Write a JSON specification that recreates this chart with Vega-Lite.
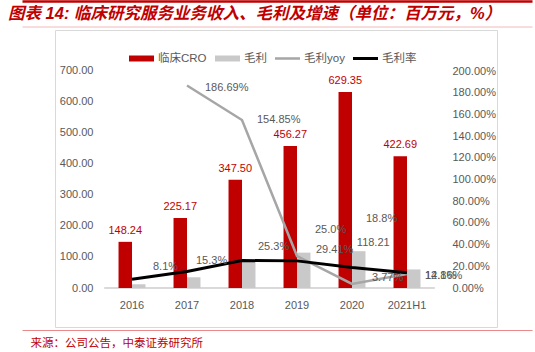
{
  "$schema": "https://vega.github.io/schema/vega-lite/v6.json",
  "width": 442,
  "height": 297,
  "autosize": "none",
  "padding": {"left": 55, "top": 30, "right": 38, "bottom": 25},
  "background": "white",
  "config": {"view": {"stroke": "#D9D9D9", "strokeWidth": 1}},
  "title": {
    "text": "图表 14: 临床研究服务业务收入、毛利及增速（单位：百万元，%）",
    "anchor": "start", "dx": -22, "dy": 27, "offset": 6,
    "font": "Liberation Sans, Noto Sans CJK SC", "fontSize": 16.5, "fontStyle": "italic",
    "fontWeight": "bold", "color": "#C00000"
  },
  "data": {
    "values": [
      {"year": "2016", "临床CRO": 148.24, "毛利": 12.01, "毛利yoy": null, "毛利率": 0.081},
      {"year": "2017", "临床CRO": 225.17, "毛利": 34.43, "毛利yoy": 1.8669, "毛利率": 0.153},
      {"year": "2018", "临床CRO": 347.50, "毛利": 87.75, "毛利yoy": 1.5485, "毛利率": 0.253},
      {"year": "2019", "临床CRO": 456.27, "毛利": 113.56, "毛利yoy": 0.2941, "毛利率": 0.250},
      {"year": "2020", "临床CRO": 629.35, "毛利": 118.21, "毛利yoy": 0.0377, "毛利率": 0.188},
      {"year": "2021H1", "临床CRO": 422.69, "毛利": 59.60, "毛利yoy": 0.1286, "毛利率": 0.141}
    ]
  },
  "layer": [
    {
      "mark": {"type": "rule", "opacity": 0},
      "encoding": {
        "x": {"datum": "frame", "type": "nominal", "scale": {"range": [-33, 477]},
          "axis": {"orient": "top", "offset": 29, "domainColor": "#C00000", "domainWidth": 2.5, "labels": false, "ticks": false, "grid": false, "title": null}}
      }
    },
    {
      "mark": {"type": "rule", "opacity": 0},
      "encoding": {
        "x": {"datum": "frame", "type": "nominal", "scale": {"range": [-33, 477]},
          "axis": {"orient": "top", "offset": 3.5, "domainColor": "#F2B8B8", "domainWidth": 1, "labels": false, "ticks": false, "grid": false, "title": null}}
      }
    },
    {
      "mark": {"type": "rule", "opacity": 0},
      "encoding": {
        "x": {"datum": "frame", "type": "nominal", "scale": {"range": [-33, 477]},
          "axis": {"orient": "bottom", "offset": 3, "domainColor": "#E88A8A", "domainWidth": 1, "labels": false, "ticks": false, "grid": false, "title": null}}
      }
    },
    {
      "mark": {"type": "rule", "color": "#D9D9D9", "strokeWidth": 1},
      "encoding": {
        "x": {"datum": "2016", "type": "nominal", "bandPosition": -0.52, "axis": null,
          "scale": {"domain": ["2016", "2017", "2018", "2019", "2020", "2021H1"], "range": [49.5, 379.5], "paddingInner": 0.51, "paddingOuter": 0.255}},
        "x2": {"datum": "2021H1", "bandPosition": 1.52},
        "y": {"datum": 0, "type": "quantitative", "scale": {"domain": [0, 700], "range": [258, 40], "nice": false}, "axis": null}
      }
    },
    {
      "transform": [{"fold": ["临床CRO", "毛利"], "as": ["series", "value"]}],
      "mark": {"type": "bar"},
      "encoding": {
        "x": {
          "field": "year", "type": "nominal",
          "scale": {"domain": ["2016", "2017", "2018", "2019", "2020", "2021H1"], "range": [49.5, 379.5], "paddingInner": 0.51, "paddingOuter": 0.255},
          "axis": {
            "orient": "bottom", "offset": 3, "domain": false,
            "ticks": false, "labelPadding": -31, "labelAngle": 0,
            "labelFont": "Liberation Sans", "labelFontSize": 11, "labelColor": "#595959",
            "title": "来源：公司公告，中泰证券研究所", "titleX": -25, "titleY": 13,
            "titleAnchor": "start", "titleAlign": "left", "titleBaseline": "middle",
            "titleColor": "#C00000", "titleFontSize": 11.5, "titleFontWeight": "normal",
            "titleFont": "Noto Sans CJK SC"
          }
        },
        "xOffset": {"field": "series", "type": "nominal", "scale": {"domain": ["临床CRO", "毛利"], "paddingInner": 0, "paddingOuter": 0}},
        "y": {
          "field": "value", "type": "quantitative",
          "scale": {"domain": [0, 700], "range": [258, 40], "nice": false},
          "axis": {
            "orient": "left", "offset": -49.5, "values": [0, 100, 200, 300, 400, 500, 600, 700],
            "format": ".2f", "domain": false, "ticks": false, "grid": false, "labelPadding": 11.5,
            "title": null, "labelFont": "Liberation Sans", "labelFontSize": 11, "labelColor": "#595959"
          }
        },
        "color": {
          "field": "series", "type": "nominal",
          "scale": {"domain": ["临床CRO", "毛利", "毛利yoy", "毛利率"], "range": ["#C00000", "#C9C9C9", "#A6A6A6", "#000000"]},
          "legend": {
            "orient": "none", "legendX": 74, "legendY": 16, "direction": "horizontal", "columns": 4,
            "title": null, "symbolSize": 625, "labelFontSize": 11.5, "labelColor": "#595959",
            "labelFont": "Liberation Sans, Noto Sans CJK SC", "columnPadding": 8, "labelOffset": 4,
            "encode": {
              "symbols": {
                "update": {
                  "shape": {"signal": "datum.value == '临床CRO' || datum.value == '毛利' ? 'M-1,-0.24H1V0.24H-1Z' : datum.value == '毛利率' ? 'M-1,-0.12H1V0.12H-1Z' : 'M-1,-0.1H1V0.1H-1Z'"},
                  "fill": {"signal": "scale('color', datum.value)"},
                  "stroke": {"value": "transparent"},
                  "strokeWidth": {"value": 0},
                  "opacity": {"value": 1}
                }
              }
            }
          }
        }
      }
    },
    {
      "transform": [{"fold": ["临床CRO", "毛利"], "as": ["series", "value"]}, {"filter": "datum.series == '临床CRO'"}],
      "mark": {"type": "text", "color": "#C00000", "fontSize": 11, "font": "Liberation Sans", "baseline": "alphabetic", "dy": -8},
      "encoding": {
        "x": {"field": "year", "type": "nominal", "axis": null,
          "scale": {"domain": ["2016", "2017", "2018", "2019", "2020", "2021H1"], "range": [49.5, 379.5], "paddingInner": 0.51, "paddingOuter": 0.255}},
        "xOffset": {"field": "series", "type": "nominal"},
        "y": {"field": "value", "type": "quantitative", "scale": {"domain": [0, 700], "range": [258, 40], "nice": false}, "axis": null},
        "text": {"field": "value", "type": "quantitative", "format": ".2f"}
      }
    },
    {
      "transform": [{"fold": ["临床CRO", "毛利"], "as": ["series", "value"]}, {"filter": "datum.series == '毛利' && datum.year == '2020'"}],
      "mark": {"type": "text", "color": "#595959", "fontSize": 11, "font": "Liberation Sans", "baseline": "alphabetic", "dx": 14.5, "dy": -5},
      "encoding": {
        "x": {"field": "year", "type": "nominal", "axis": null,
          "scale": {"domain": ["2016", "2017", "2018", "2019", "2020", "2021H1"], "range": [49.5, 379.5], "paddingInner": 0.51, "paddingOuter": 0.255}},
        "xOffset": {"field": "series", "type": "nominal"},
        "y": {"field": "value", "type": "quantitative", "scale": {"domain": [0, 700], "range": [258, 40], "nice": false}, "axis": null},
        "text": {"field": "value", "type": "quantitative", "format": ".2f"}
      }
    },
    {
      "transform": [{"filter": "isValid(datum['毛利yoy'])"}],
      "mark": {"type": "line", "strokeWidth": 2.5},
      "encoding": {
        "x": {"field": "year", "type": "nominal", "axis": null,
          "scale": {"domain": ["2016", "2017", "2018", "2019", "2020", "2021H1"], "range": [49.5, 379.5], "paddingInner": 0.51, "paddingOuter": 0.255}},
        "y": {
          "field": "毛利yoy", "type": "quantitative",
          "scale": {"domain": [0, 2], "range": [258, 41], "nice": false},
          "axis": {
            "orient": "right", "offset": -62.5, "values": [0, 0.2, 0.4, 0.6, 0.8, 1, 1.2, 1.4, 1.6, 1.8, 2],
            "format": ".2%", "domain": false, "ticks": false, "grid": false, "labelPadding": 17.5,
            "title": null, "labelFont": "Liberation Sans", "labelFontSize": 11, "labelColor": "#595959"
          }
        },
        "color": {"datum": "毛利yoy"}
      }
    },
    {
      "mark": {"type": "line", "strokeWidth": 3},
      "encoding": {
        "x": {"field": "year", "type": "nominal", "axis": null,
          "scale": {"domain": ["2016", "2017", "2018", "2019", "2020", "2021H1"], "range": [49.5, 379.5], "paddingInner": 0.51, "paddingOuter": 0.255}},
        "y": {"field": "毛利率", "type": "quantitative", "scale": {"domain": [0, 2], "range": [258, 41], "nice": false}, "axis": null},
        "color": {"datum": "毛利率"}
      }
    },
    {
      "transform": [{"filter": "isValid(datum['毛利yoy'])"}],
      "mark": {
        "type": "text", "align": "left", "baseline": "middle", "fontSize": 11, "font": "Liberation Sans", "color": "#595959",
        "dx": {"expr": "datum.year == '2017' ? 18 : datum.year == '2018' ? 15 : datum.year == '2019' ? 19 : datum.year == '2020' ? 20 : 18"},
        "dy": {"expr": "datum.year == '2017' ? 3 : datum.year == '2018' ? 0 : datum.year == '2019' ? -6 : datum.year == '2020' ? -6 : 2"}
      },
      "encoding": {
        "x": {"field": "year", "type": "nominal", "axis": null,
          "scale": {"domain": ["2016", "2017", "2018", "2019", "2020", "2021H1"], "range": [49.5, 379.5], "paddingInner": 0.51, "paddingOuter": 0.255}},
        "y": {"field": "毛利yoy", "type": "quantitative", "scale": {"domain": [0, 2], "range": [258, 41], "nice": false}, "axis": null},
        "text": {"field": "毛利yoy", "type": "quantitative", "format": ".2%"}
      }
    },
    {
      "mark": {
        "type": "text", "align": "left", "baseline": "middle", "fontSize": 11, "font": "Liberation Sans", "color": "#595959",
        "dx": {"expr": "datum.year == '2016' ? 21 : datum.year == '2017' ? 9 : datum.year == '2018' ? 16 : datum.year == '2019' ? 18 : datum.year == '2020' ? 14 : 18"},
        "dy": {"expr": "datum.year == '2016' ? -12 : datum.year == '2017' ? -10 : datum.year == '2018' ? -14 : datum.year == '2019' ? -31 : datum.year == '2020' ? -49 : 3"}
      },
      "encoding": {
        "x": {"field": "year", "type": "nominal", "axis": null,
          "scale": {"domain": ["2016", "2017", "2018", "2019", "2020", "2021H1"], "range": [49.5, 379.5], "paddingInner": 0.51, "paddingOuter": 0.255}},
        "y": {"field": "毛利率", "type": "quantitative", "scale": {"domain": [0, 2], "range": [258, 41], "nice": false}, "axis": null},
        "text": {"field": "毛利率", "type": "quantitative", "format": ".1%"}
      }
    }
  ],
  "resolve": {"scale": {"x": "independent", "y": "independent"}}
}
